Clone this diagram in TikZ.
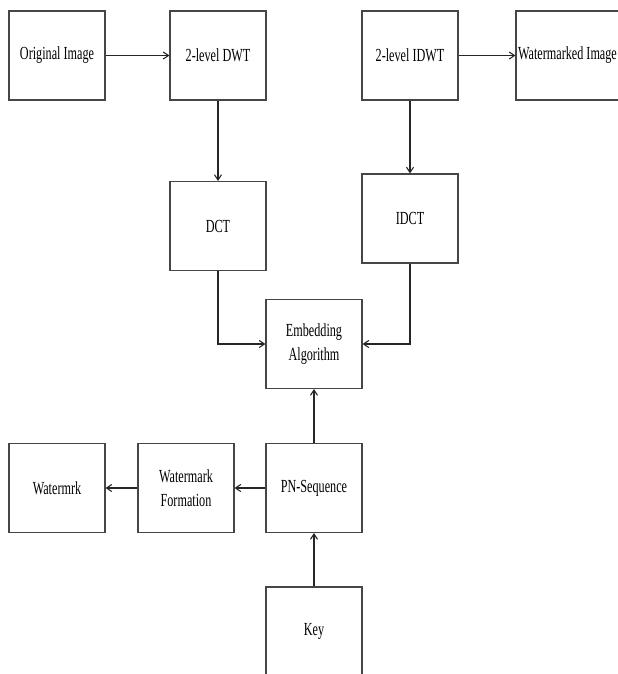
\documentclass[tikz,border=0pt]{standalone}
\usepackage{fontspec}
\setmainfont{Liberation Serif}[FakeStretch=0.66]
\usepackage{tikz}
\usetikzlibrary{arrows.meta}
\definecolor{boxLine}{RGB}{70, 70, 70}

\begin{document}
\begin{tikzpicture}[x=0.02cm, y=-0.02cm, >={Straight Barb[length=3pt, width=4pt]},
  font=\fontsize{10.5}{14}\selectfont,
  stagebox/.style={draw=boxLine, line width=0.7pt, minimum width=1.92cm,
    minimum height=1.78cm, inner sep=1pt, align=center},
  flow/.style={draw=black!85, line width=0.6pt, ->}]
  \useasboundingbox (0,0) rectangle (618,674);
  % top row
  \node[stagebox] (orig) at (57,55.5) {Original Image};
  \node[stagebox] (dwt)  at (218,55.5) {2-level DWT};
  \node[stagebox] (idwt) at (410,55.5) {2-level IDWT};
  \node[stagebox, minimum width=2.06cm] (wimg) at (567.5,55.5) {Watermarked Image};
  % transforms
  \node[stagebox] (dct)  at (218,226) {DCT};
  \node[stagebox] (idct) at (410,218.5) {IDCT};
  \node[stagebox] (emb)  at (314,344) {Embedding\\Algorithm};
  % bottom row
  \node[stagebox] (pn)   at (314,488) {PN-Sequence};
  \node[stagebox] (wform) at (186,488) {Watermark\\Formation};
  \node[stagebox] (wmrk) at (57,488) {Watermrk};
  \node[stagebox] (key)  at (314,631.5) {Key};

  \draw[flow] (orig) -- (dwt);
  \draw[flow] (idwt) -- (wimg);
  \draw[flow] (dwt) -- (dct);
  \draw[flow] (idwt) -- (idct);
  \draw[flow] (dct.south) |- (emb.west);
  \draw[flow] (idct.south) |- (emb.east);
  \draw[flow] (pn) -- (emb);
  \draw[flow] (key) -- (pn);
  \draw[flow] (pn) -- (wform);
  \draw[flow] (wform) -- (wmrk);
\end{tikzpicture}
\end{document}
